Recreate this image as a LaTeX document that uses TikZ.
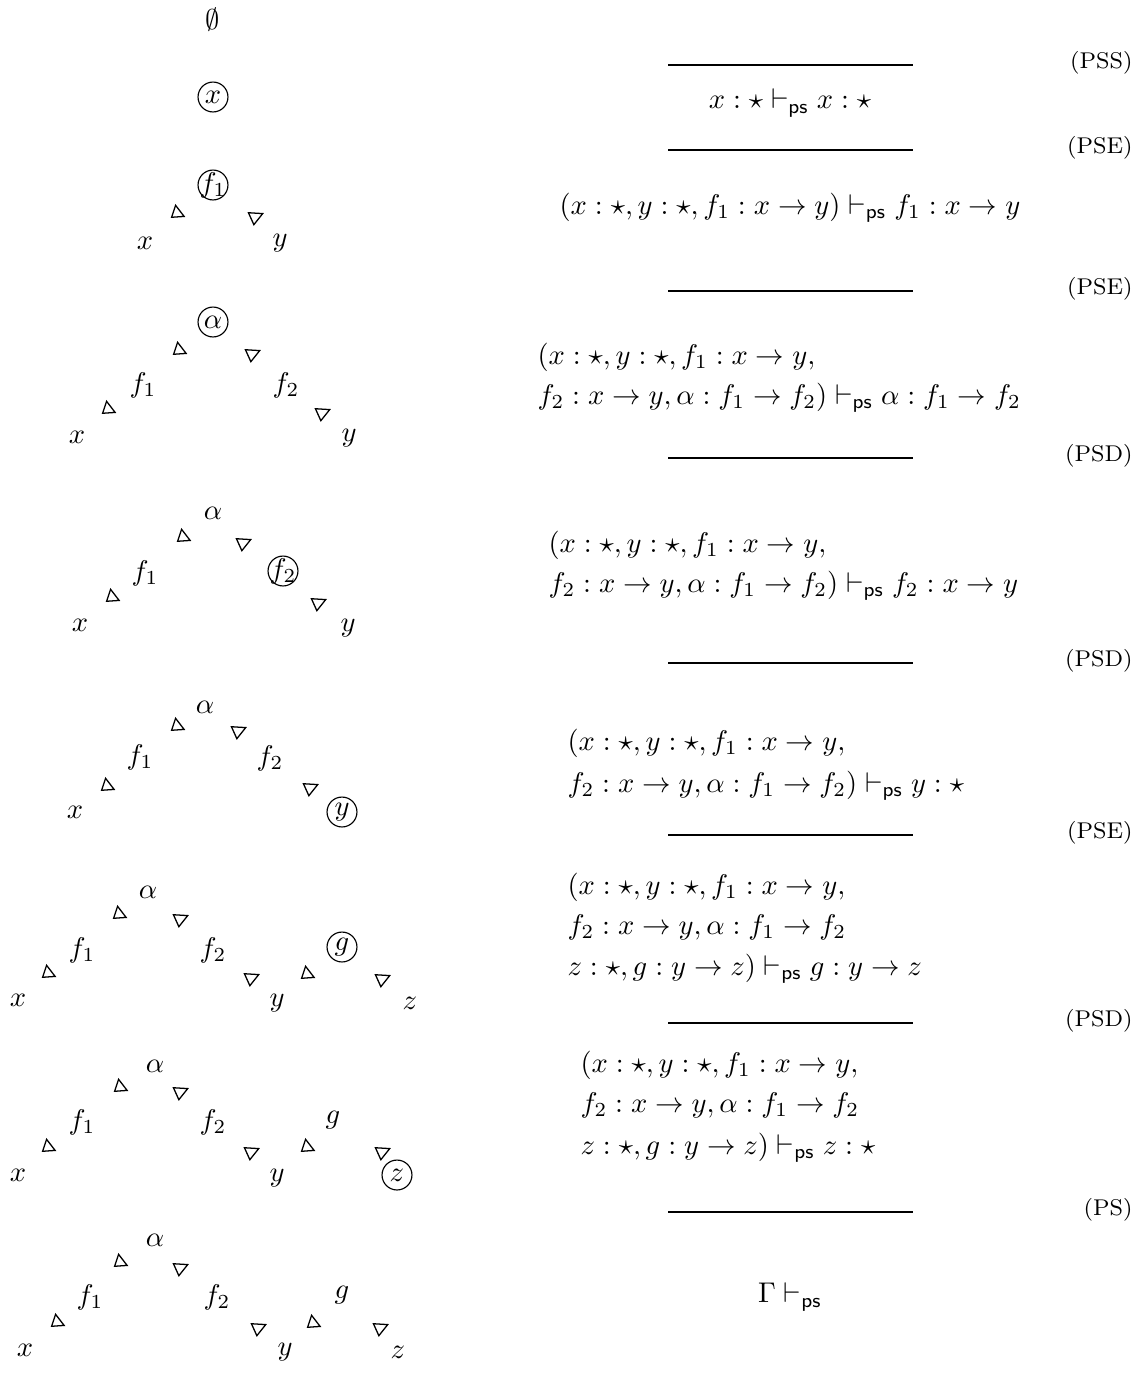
\documentclass[tikz,border=0pt]{standalone}
\usepackage{amsmath,amssymb}
\newcommand\vps{\mathrel{\vdash_{\mathsf{ps}}}}
\newcommand\tu[1]{\draw[tri] (#1) ++(-0.5pt,2.7pt) -- ++(-1.4pt,-4.2pt) -- ++(4.4pt,0.3pt) -- cycle;}
\newcommand\td[1]{\draw[tri] (#1) ++(-2.3pt,1.5pt) -- ++(5pt,-0.3pt) -- ++(-3.1pt,-3.9pt) -- cycle;}
\begin{document}
\begin{tikzpicture}[x=0.3509pt,y=-0.3509pt,
  lab/.style={font=\footnotesize, anchor=east, inner sep=0pt},
  bar/.style={line width=0.5pt},
  jd/.style={anchor=base west, inner sep=0pt},
  jc/.style={inner sep=0pt},
  v/.style={inner sep=0pt},
  ring/.style={draw, circle, minimum size=10.5pt, inner sep=0pt, line width=0.4pt},
  tri/.style={line width=0.45pt, line join=miter}]
\useasboundingbox (0,0) rectangle (1144,1391);
% ---------- left column ----------
\node[v] (e0) at (213,20) {$\emptyset$};
% row 1
\node[v] (a1) at (213,97) {$x$};
\node[ring] (c1) at (a1.center) {};
% row 2
\node[v] (a2) at (213,185) {$f_1$};
\node[ring] (c2) at (a2.center) {};
\node[v] (x2) at (145,243) {$x$};
\node[v] (y2) at (280,243) {$y$};
\tu{177,213} \td{255,217}
% row 3
\node[v] (a3) at (213,322) {$\alpha$};
\node[ring] (c3) at (a3.center) {};
\node[v] (f13) at (143,385) {$f_1$};
\node[v] (f23) at (286,385) {$f_2$};
\node[v] (x3) at (77,437) {$x$};
\node[v] (y3) at (349,438) {$y$};
\tu{179,350} \td{252,354} \tu{108,409} \td{322,413}
% row 4
\node[v] (a4) at (213,513) {$\alpha$};
\node[v] (f14) at (145,573) {$f_1$};
\node[v] (f24) at (283,571) {$f_2$};
\node[ring] (c4) at (f24.center) {};
\node[v] (x4) at (80,625) {$x$};
\node[v] (y4) at (348,628) {$y$};
\tu{183,537} \td{243,543} \tu{112,597} \td{318,603}
% row 5
\node[v] (a5) at (205,707) {$\alpha$};
\node[v] (f15) at (140,757) {$f_1$};
\node[v] (f25) at (270,758) {$f_2$};
\node[v] (x5) at (75,812) {$x$};
\node[v] (y5) at (342,812) {$y$};
\node[ring] (c5) at (y5.center) {};
\tu{177,726} \td{238,731} \tu{107,786} \td{310,788}
% row 6
\node[v] (a6) at (148,892) {$\alpha$};
\node[v] (f16) at (82,950) {$f_1$};
\node[v] (f26) at (213,950) {$f_2$};
\node[v] (g6) at (342,947) {$g$};
\node[ring] (c6) at (g6.center) {};
\node[v] (x6) at (18,1000) {$x$};
\node[v] (y6) at (277,1003) {$y$};
\node[v] (z6) at (410,1003) {$z$};
\tu{119,914} \td{180,919} \tu{48,973} \td{251,978} \tu{307,974} \td{382,979}
% row 7
\node[v] (a7) at (155,1066) {$\alpha$};
\node[v] (f17) at (82,1122) {$f_1$};
\node[v] (f27) at (213,1122) {$f_2$};
\node[v] (g7) at (333,1120) {$g$};
\node[v] (x7) at (18,1175) {$x$};
\node[v] (y7) at (277,1178) {$y$};
\node[v] (z7) at (397,1175) {$z$};
\node[ring] (c7) at (z7.center) {};
\tu{120,1087} \td{180,1092} \tu{48,1147} \td{251,1152} \tu{307,1147} \td{382,1152}
% row 8
\node[v] (a8) at (155,1240) {$\alpha$};
\node[v] (f18) at (90,1297) {$f_1$};
\node[v] (f28) at (217,1297) {$f_2$};
\node[v] (g8) at (342,1295) {$g$};
\node[v] (x8) at (25,1350) {$x$};
\node[v] (y8) at (285,1352) {$y$};
\node[v] (z8) at (398,1352) {$z$};
\tu{120,1262} \td{180,1268} \tu{57,1322} \td{258,1328} \tu{313,1323} \td{380,1328}
% ---------- right column ----------
\foreach \yy/\ll in {65/PSS,150/PSE,291/PSE,458/PSD,663/PSD,835/PSE,1023/PSD,1212/PS}{
  \draw[bar] (668,\yy) -- (913,\yy);
  \node[lab] (l\yy) at (1133,\yy-2) {(\ll)};
}
\node[jc] (j1) at (790,103) {$x:\star\vps x:\star$};
\node[jc] (j2) at (790,208) {$(x:\star,y:\star,f_1:x\to y)\vps f_1:x\to y$};
\node[jd] (j3a) at (537,364) {$(x:\star,y:\star,f_1:x\to y,$};
\node[jd] (j3b) at (537,404) {$f_2:x\to y,\alpha:f_1\to f_2)\vps \alpha:f_1\to f_2$};
\node[jd] (j4a) at (548,552) {$(x:\star,y:\star,f_1:x\to y,$};
\node[jd] (j4b) at (548,592) {$f_2:x\to y,\alpha:f_1\to f_2)\vps f_2:x\to y$};
\node[jd] (j5a) at (567,750) {$(x:\star,y:\star,f_1:x\to y,$};
\node[jd] (j5b) at (567,792) {$f_2:x\to y,\alpha:f_1\to f_2)\vps y:\star$};
\node[jd] (j6a) at (567,894) {$(x:\star,y:\star,f_1:x\to y,$};
\node[jd] (j6b) at (567,934) {$f_2:x\to y,\alpha:f_1\to f_2$};
\node[jd] (j6c) at (567,975) {$z:\star,g:y\to z)\vps g:y\to z$};
\node[jd] (j7a) at (580,1072) {$(x:\star,y:\star,f_1:x\to y,$};
\node[jd] (j7b) at (580,1112) {$f_2:x\to y,\alpha:f_1\to f_2$};
\node[jd] (j7c) at (580,1154) {$z:\star,g:y\to z)\vps z:\star$};
\node[jc] (j8) at (790,1297) {$\Gamma\vps$};
\end{tikzpicture}
\end{document}
